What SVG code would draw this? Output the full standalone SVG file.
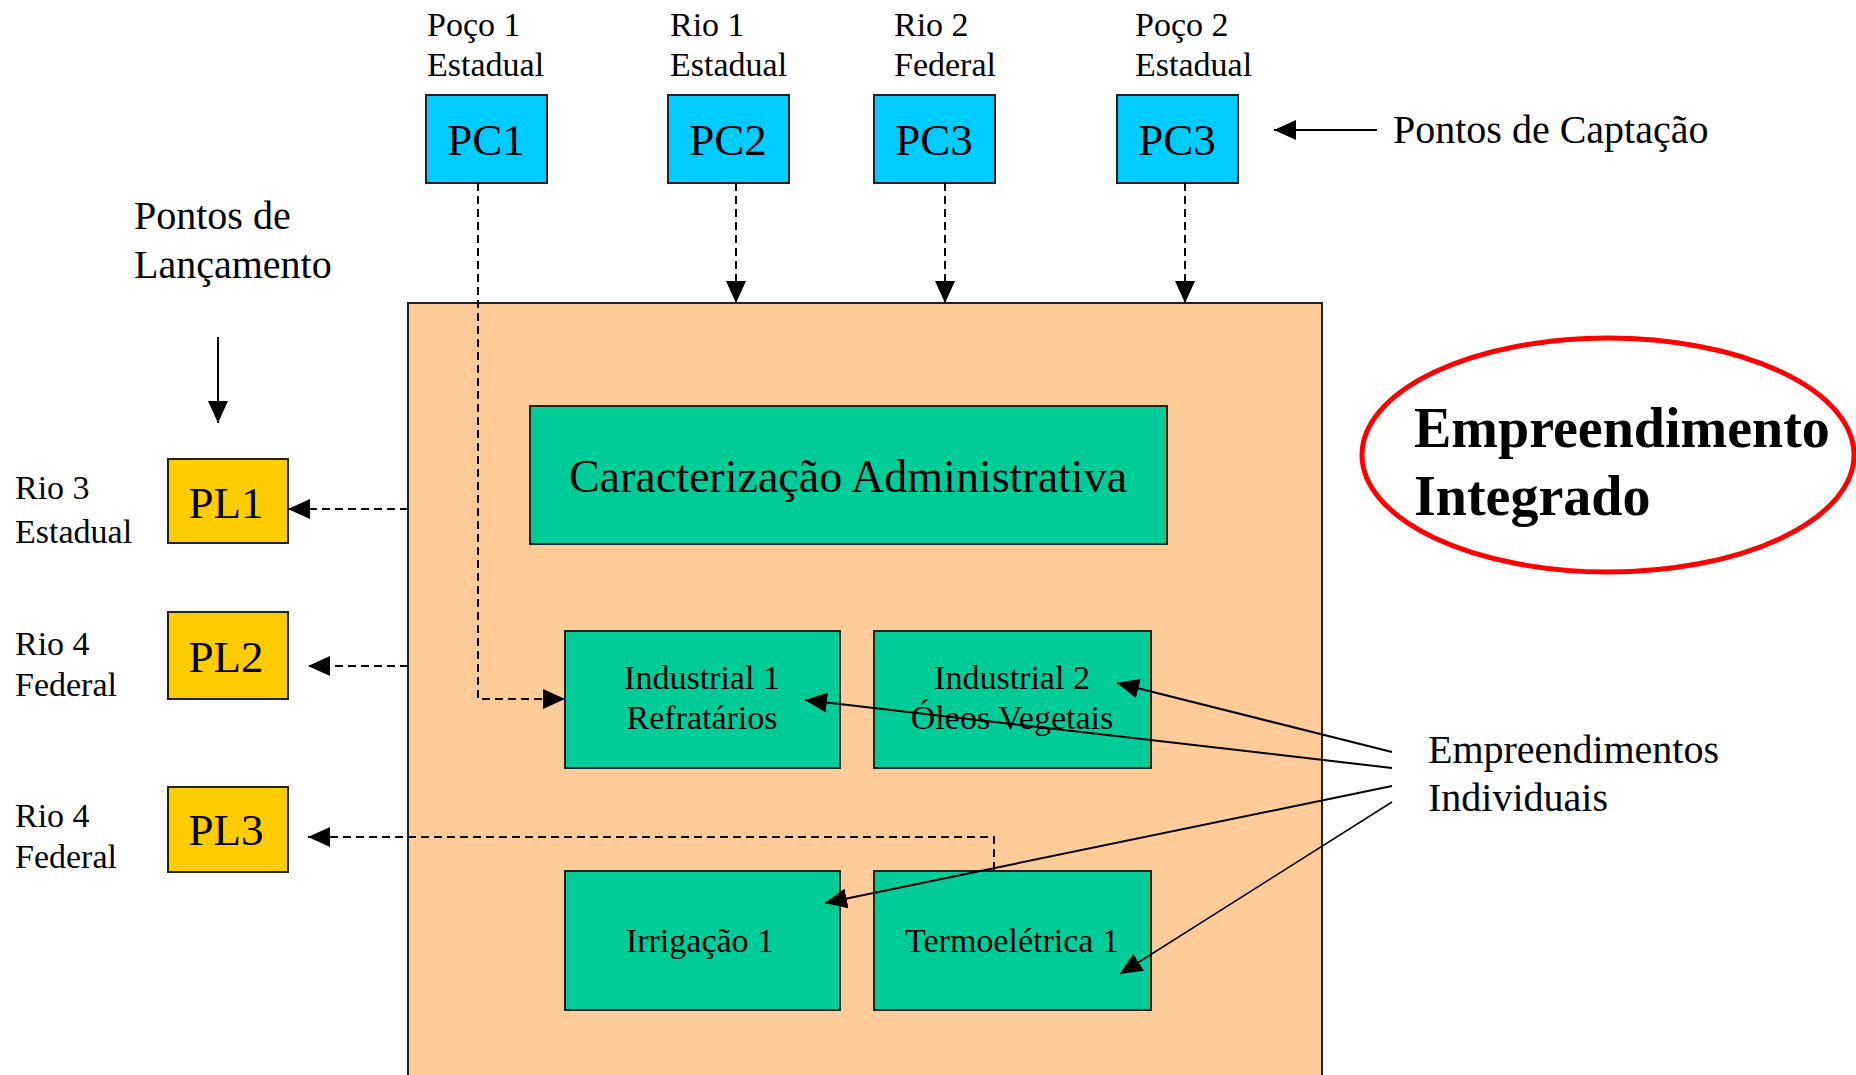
<svg xmlns="http://www.w3.org/2000/svg" width="1856" height="1075" viewBox="0 0 1856 1075">
<defs>
<style>
text{font-family:"Liberation Serif","Times New Roman",serif;fill:#000}
.lbl{font-size:34px}
.big{font-size:40px}
.pc{font-size:45px;text-anchor:middle}
.box{stroke:#222;stroke-width:2}
.cyan{fill:#00CCFF}
.yel{fill:#FFCC00}
.grn{fill:#00CC99}
.mid{text-anchor:middle}
.dash{fill:none;stroke:#000;stroke-width:2;stroke-dasharray:8 5}
.solid{fill:none;stroke:#000;stroke-width:2}
</style>
<marker id="ah" viewBox="0 0 22 20" refX="22" refY="10" markerWidth="22" markerHeight="20" markerUnits="userSpaceOnUse" orient="auto">
<path d="M0,0 L22,10 L0,20 z" fill="#000"/>
</marker>
</defs>
<rect x="0" y="0" width="1856" height="1075" fill="#fff"/>

<g id="empreendimento-integrado-area">
<rect x="408" y="303" width="914" height="800" fill="#FFCC99" stroke="#222" stroke-width="2"/>
</g>

<g id="pc1"><rect class="box cyan" x="426" y="95" width="121" height="88"/><text class="pc" x="486" y="155">PC1</text></g>
<g id="pc2"><rect class="box cyan" x="668" y="95" width="121" height="88"/><text class="pc" x="728" y="155">PC2</text></g>
<g id="pc3a"><rect class="box cyan" x="874" y="95" width="121" height="88"/><text class="pc" x="934" y="155">PC3</text></g>
<g id="pc3b"><rect class="box cyan" x="1117" y="95" width="121" height="88"/><text class="pc" x="1177" y="155">PC3</text></g>

<g id="pc-labels">
<text class="lbl" x="427" y="36">Poço 1</text><text class="lbl" x="427" y="76">Estadual</text>
<text class="lbl" x="670" y="36">Rio 1</text><text class="lbl" x="670" y="76">Estadual</text>
<text class="lbl" x="894" y="36">Rio 2</text><text class="lbl" x="894" y="76">Federal</text>
<text class="lbl" x="1135" y="36">Poço 2</text><text class="lbl" x="1135" y="76">Estadual</text>
</g>

<g id="pontos-captacao"><text class="big" x="1393" y="143">Pontos de Captação</text></g>
<g id="pontos-lancamento"><text class="big" x="134" y="229">Pontos de</text><text class="big" x="134" y="278">Lançamento</text></g>

<g id="pl1"><rect class="box yel" x="168" y="459" width="120" height="84"/><text class="pc" x="226" y="518">PL1</text></g>
<g id="pl2"><rect class="box yel" x="168" y="612" width="120" height="87"/><text class="pc" x="226" y="672">PL2</text></g>
<g id="pl3"><rect class="box yel" x="168" y="787" width="120" height="85"/><text class="pc" x="226" y="845">PL3</text></g>

<g id="pl-labels">
<text class="lbl" x="15" y="499">Rio 3</text><text class="lbl" x="15" y="543">Estadual</text>
<text class="lbl" x="15" y="655">Rio 4</text><text class="lbl" x="15" y="696">Federal</text>
<text class="lbl" x="15" y="827">Rio 4</text><text class="lbl" x="15" y="868">Federal</text>
</g>

<g id="caracterizacao"><rect class="box grn" x="530" y="406" width="637" height="138"/><text class="mid" style="font-size:46px" x="848" y="492">Caracterização Administrativa</text></g>
<g id="industrial1"><rect class="box grn" x="565" y="631" width="275" height="137"/><text class="lbl mid" x="702" y="689">Industrial 1</text><text class="lbl mid" x="702" y="729">Refratários</text></g>
<g id="industrial2"><rect class="box grn" x="874" y="631" width="277" height="137"/><text class="lbl mid" x="1012" y="689">Industrial 2</text><text class="lbl mid" x="1012" y="729">Óleos Vegetais</text></g>
<g id="irrigacao1"><rect class="box grn" x="565" y="871" width="275" height="139"/><text class="lbl mid" x="700" y="952">Irrigação 1</text></g>
<g id="termoeletrica1"><rect class="box grn" x="874" y="871" width="277" height="139"/><text class="lbl mid" x="1012" y="952">Termoelétrica 1</text></g>

<g id="integrado">
<ellipse cx="1608" cy="455" rx="246" ry="117" fill="none" stroke="#FF0000" stroke-width="5"/>
<text style="font-size:56px;font-weight:bold" x="1414" y="447">Empreendimento</text>
<text style="font-size:56px;font-weight:bold" x="1414" y="515">Integrado</text>
</g>

<g id="individuais"><text class="big" x="1428" y="763">Empreendimentos</text><text class="big" x="1428" y="811">Individuais</text></g>

<g id="connectors">
<path class="dash" d="M478,183 V699 H565" marker-end="url(#ah)"/>
<path class="dash" d="M736,183 V303" marker-end="url(#ah)"/>
<path class="dash" d="M945,183 V303" marker-end="url(#ah)"/>
<path class="dash" d="M1185,183 V303" marker-end="url(#ah)"/>
<path class="dash" d="M408,509 H288" marker-end="url(#ah)"/>
<path class="dash" d="M408,666 H308" marker-end="url(#ah)"/>
<path class="dash" d="M994,870 V837 H308" marker-end="url(#ah)"/>
<path class="solid" d="M1377,130 H1274" marker-end="url(#ah)"/>
<path class="solid" d="M218,337 V423" marker-end="url(#ah)"/>
<path class="solid" d="M1392,752 L1117,683" marker-end="url(#ah)"/>
<path class="solid" d="M1392,768 L805,700" marker-end="url(#ah)"/>
<path class="solid" d="M1392,786 L825,903" marker-end="url(#ah)"/>
<path class="solid" style="stroke-width:1.5" d="M1392,802 L1120,974" marker-end="url(#ah)"/>
</g>
</svg>
